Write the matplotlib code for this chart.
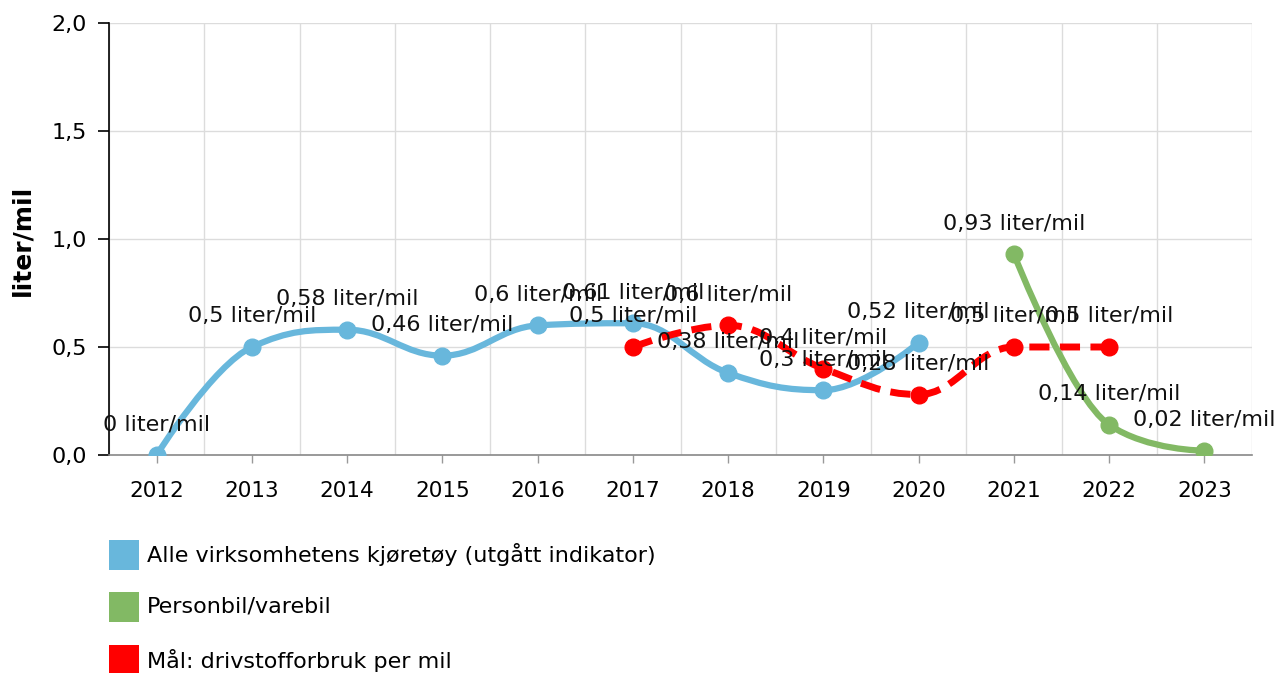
import matplotlib
matplotlib.use("Agg")
import matplotlib.pyplot as plt
from matplotlib.path import Path
from matplotlib.patches import PathPatch, Rectangle

# data
years_all = [2012, 2013, 2014, 2015, 2016, 2017, 2018, 2019, 2020]
vals_all = [0, 0.5, 0.58, 0.46, 0.6, 0.61, 0.38, 0.3, 0.52]

years_goal = [2017, 2018, 2019, 2020, 2021, 2022]
vals_goal = [0.5, 0.6, 0.4, 0.28, 0.5, 0.5]

years_car = [2021, 2022, 2023]
vals_car = [0.93, 0.14, 0.02]

tick_years = list(range(2012, 2024))
y_ticks = [0.0, 0.5, 1.0, 1.5, 2.0]

names = ["Alle virksomhetens kjøretøy (utgått indikator)",
         "Personbil/varebil",
         "Mål: drivstofforbruk per mil"]
colors = ["#68b7dc", "#82b964", "#ff0000"]


def fmt(v):
    return ("%g" % v).replace(".", ",")


def spline_path(xs, ys, smoothing=1.5):
    # smooth curve through points (cubic beziers, no overshoot)
    n = len(xs)
    denom = smoothing + 1
    left = [(x, y) for x, y in zip(xs, ys)]
    right = [(x, y) for x, y in zip(xs, ys)]
    for i in range(1, n - 1):
        px, py = xs[i], ys[i]
        lx, ly = xs[i - 1], ys[i - 1]
        nx, ny = xs[i + 1], ys[i + 1]
        lcx = (smoothing * px + lx) / denom
        lcy = (smoothing * py + ly) / denom
        rcx = (smoothing * px + nx) / denom
        rcy = (smoothing * py + ny) / denom
        corr = ((rcy - lcy) * (rcx - px)) / (rcx - lcx) + py - rcy
        lcy += corr
        rcy += corr
        if lcy > ly and lcy > py:
            lcy = max(ly, py); rcy = 2 * py - lcy
        elif lcy < ly and lcy < py:
            lcy = min(ly, py); rcy = 2 * py - lcy
        if rcy > ny and rcy > py:
            rcy = max(ny, py); lcy = 2 * py - rcy
        elif rcy < ny and rcy < py:
            rcy = min(ny, py); lcy = 2 * py - rcy
        left[i] = (lcx, lcy)
        right[i] = (rcx, rcy)
    verts = [(xs[0], ys[0])]
    codes = [Path.MOVETO]
    for i in range(1, n):
        verts += [right[i - 1], left[i], (xs[i], ys[i])]
        codes += [Path.CURVE4] * 3
    return Path(verts, codes)


plt.rcParams['font.family'] = ['DejaVu Sans']
fig = plt.figure(figsize=(12.78, 6.73), dpi=100)
ax = fig.add_axes([109 / 1278, 1 - 455 / 673, (1252 - 109) / 1278, (455 - 23) / 673])

ax.set_xlim(2011.5, 2023.5)
ax.set_ylim(0, 2.0)

# grid
for x in range(2012, 2025):
    ax.axvline(x - 0.5, color="#dcdcdc", lw=1, zorder=0)
for y in y_ticks[1:]:
    ax.axhline(y, color="#dcdcdc", lw=1, zorder=0)

series = [
    (years_all, vals_all, colors[0], "solid", 3),
    (years_goal, vals_goal, colors[2], "dashed", 4),
    (years_car, vals_car, colors[1], "solid", 5),
]
for xs, ys, c, ls, z in series:
    patch = PathPatch(spline_path(xs, ys), facecolor="none", edgecolor=c,
                      lw=4.5, zorder=z, capstyle="butt")
    if ls == "dashed":
        patch.set_linewidth(5)
        patch.set_linestyle((0, (2.9, 1.5)))
    ax.add_patch(patch)
    ax.plot(xs, ys, "o", color=c, markersize=12, zorder=z)
    for x, y in zip(xs, ys):
        ax.annotate(fmt(y) + " liter/mil", (x, y), xytext=(0, 22),
                    textcoords="offset points", ha="center", va="center",
                    fontsize=16, color="#111111", zorder=10)

ax.set_xticks(tick_years)
ax.set_xticklabels([str(y) for y in tick_years], fontsize=15.5)
ax.set_yticks(y_ticks)
ax.set_yticklabels([fmt(y) if y != int(y) else "%d,0" % y for y in y_ticks], fontsize=16)
ax.tick_params(axis="x", color="#999999", length=6, width=1, pad=13)
ax.tick_params(axis="y", color="black", length=8, width=1.2, pad=8)

for s in ["top", "right"]:
    ax.spines[s].set_visible(False)
ax.spines["left"].set_color("black")
ax.spines["left"].set_linewidth(1.2)
ax.spines["bottom"].set_color("#888888")
ax.spines["bottom"].set_linewidth(1.2)

fig.text(22 / 1278, 1 - 240 / 673, "liter/mil", rotation=90, fontsize=18,
         fontweight="bold", ha="center", va="center")

# legend
rows = [555, 607, 660]
for name, c, yc in zip(names, colors, rows):
    fig.add_artist(Rectangle((109 / 1278, 1 - (yc + 15) / 673), 30 / 1278, 30 / 673,
                             transform=fig.transFigure, facecolor=c, edgecolor="none"))
    fig.text(147 / 1278, 1 - yc / 673, name, fontsize=16, ha="left", va="center")

fig.savefig("out.png", dpi=100)
